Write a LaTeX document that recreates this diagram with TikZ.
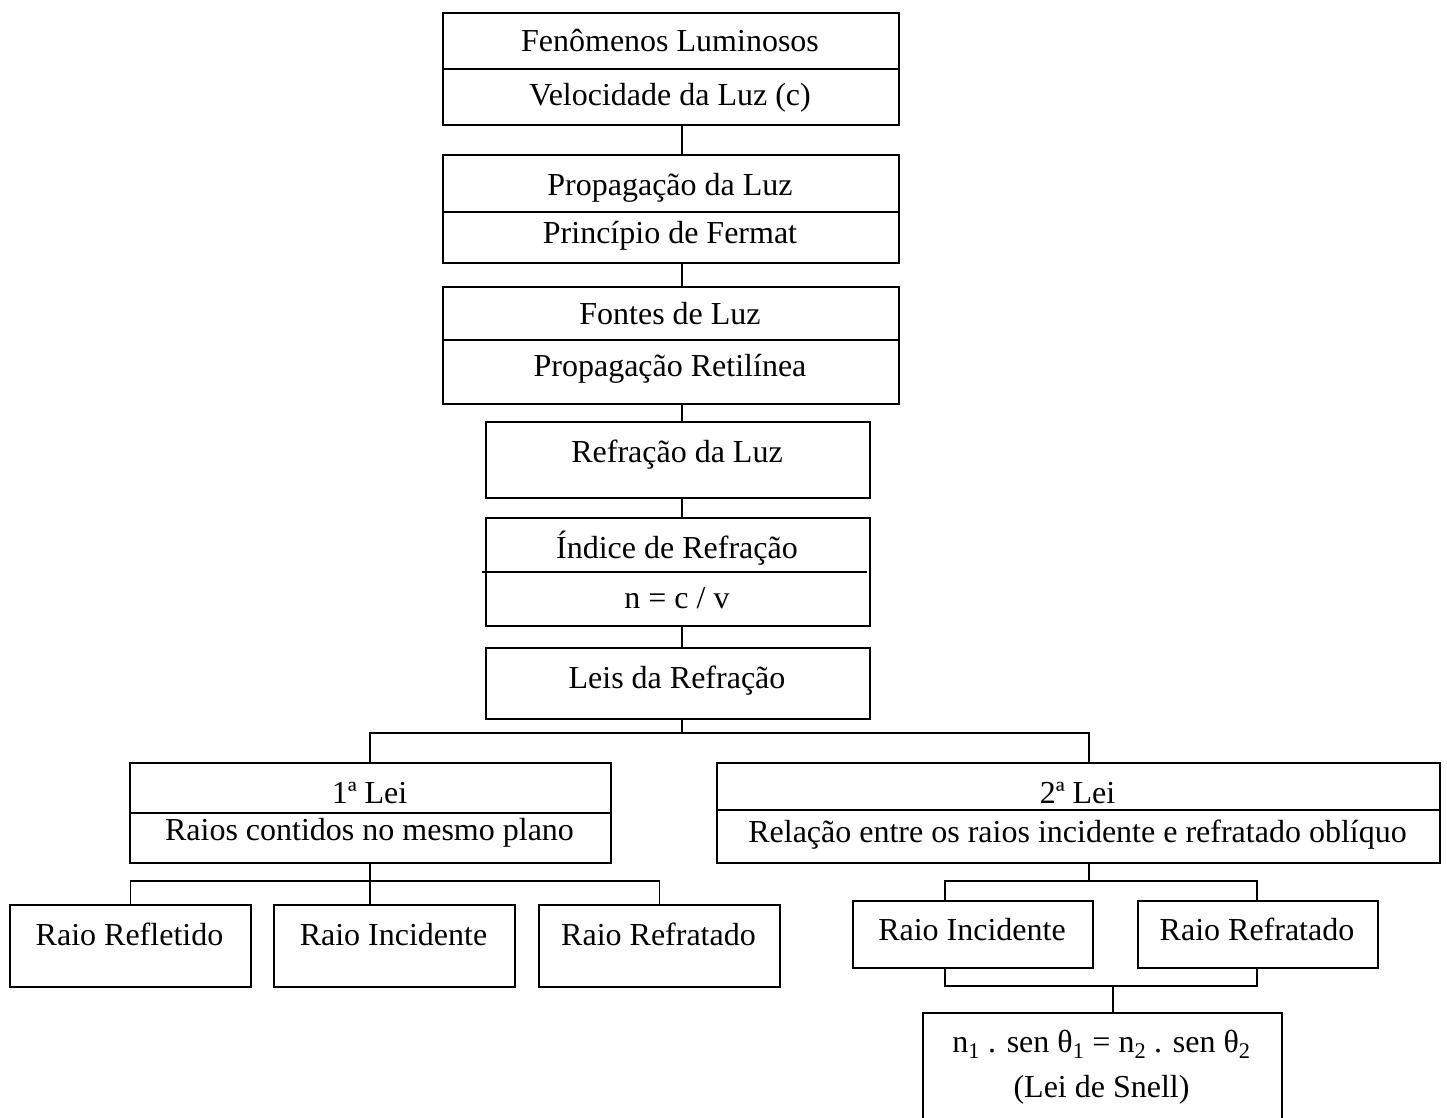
\documentclass[tikz,border=0pt]{standalone}
\usepackage{fontspec}
\setmainfont{Liberation Serif}
\begin{document}
\begin{tikzpicture}[x=1pt,y=-1pt,
  box/.style={draw, line width=1.8pt, inner sep=0pt, anchor=north west},
  wire/.style={line width=1.8pt},
  txt/.style={anchor=base, inner sep=0pt, font=\fontsize{32}{38}\selectfont}]
\useasboundingbox (0,0) rectangle (1447,1118);
\clip (0,0) rectangle (1447,1118);

% main column of boxes
\node[box, minimum width=456pt, minimum height=112pt] (a) at (442,12) {};
\node[box, minimum width=456pt, minimum height=108pt] (b) at (442,154) {};
\node[box, minimum width=456pt, minimum height=117pt] (c) at (442,286) {};
\node[box, minimum width=384pt, minimum height=76pt]  (d) at (485,421) {};
\node[box, minimum width=384pt, minimum height=108pt] (e) at (485,517) {};
\node[box, minimum width=384pt, minimum height=71pt]  (f) at (485,647) {};

% the two laws
\node[box, minimum width=481pt, minimum height=100pt] (g) at (129,762) {};
\node[box, minimum width=723pt, minimum height=100pt] (h) at (716,762) {};

% rays of the first law
\node[box, minimum width=241pt, minimum height=82pt] (l1) at (9,904) {};
\node[box, minimum width=241pt, minimum height=82pt] (l2) at (273,904) {};
\node[box, minimum width=241pt, minimum height=82pt] (l3) at (538,904) {};

% rays of the second law and Snell's law
\node[box, minimum width=240pt, minimum height=67pt] (r1) at (852,900) {};
\node[box, minimum width=240pt, minimum height=67pt] (r2) at (1137,900) {};
\node[box, minimum width=359pt, minimum height=140pt] (s) at (922,1012) {};

% inner dividers
\draw[wire] (a.west |- 0,69) -- (a.east |- 0,69);
\draw[wire] (b.west |- 0,212) -- (b.east |- 0,212);
\draw[wire] (c.west |- 0,340) -- (c.east |- 0,340);
\draw[wire] (482,572) -- (867,572);
\draw[wire] (g.west |- 0,813) -- (g.east |- 0,813);
\draw[wire] (h.west |- 0,810) -- (h.east |- 0,810);

% texts
\node[txt] (ta1) at (670,52)  {Fenômenos Luminosos};
\node[txt] (ta2) at (670,106) {Velocidade da Luz (c)};
\node[txt] (tb1) at (670,195) {Propagação da Luz};
\node[txt] (tb2) at (670,243) {Princípio de Fermat};
\node[txt] (tc1) at (670,324) {Fontes de Luz};
\node[txt] (tc2) at (670,376) {Propagação Retilínea};
\node[txt] (td)  at (677,462) {Refração da Luz};
\node[txt] (te1) at (677,558) {Índice de Refração};
\node[txt] (te2) at (677,608) {n = c / v};
\node[txt] (tf)  at (677,688) {Leis da Refração};
\node[txt] (tg1) at (369.5,803) {1ª Lei};
\node[txt] (tg2) at (369.5,840) {Raios contidos no mesmo plano};
\node[txt] (th1) at (1077.5,803) {2ª Lei};
\node[txt] (th2) at (1077.5,842) {Relação entre os raios incidente e refratado oblíquo};
\node[txt] (tl1) at (129.5,945) {Raio Refletido};
\node[txt] (tl2) at (393.5,945) {Raio Incidente};
\node[txt] (tl3) at (658.5,945) {Raio Refratado};
\node[txt] (tr1) at (972,940)  {Raio Incidente};
\node[txt] (tr2) at (1257,940) {Raio Refratado};
\node[txt] (ts1) at (1101.5,1052) {n\textsubscript{1} . sen θ\textsubscript{1} = n\textsubscript{2} . sen θ\textsubscript{2}};
\node[txt] (ts2) at (1101.5,1097) {(Lei de Snell)};

% connectors
\coordinate (spine) at (682,0);
\coordinate (gx) at (370,0);
\coordinate (hx) at (1089,0);
\coordinate (rx1) at (945,0);
\coordinate (rx2) at (1257,0);
\coordinate (j1) at (682,733);
\coordinate (j2) at (370,881);
\coordinate (j3) at (1089,881);
\coordinate (j4) at (1113,986);

\draw[wire] (spine |- a.south) -- (spine |- b.north);
\draw[wire] (spine |- b.south) -- (spine |- c.north);
\draw[wire] (spine |- c.south) -- (spine |- d.north);
\draw[wire] (spine |- d.south) -- (spine |- e.north);
\draw[wire] (spine |- e.south) -- (spine |- f.north);
\draw[wire] (j1 |- f.south) -- (j1);
\draw[wire] (gx |- g.north) -- (gx |- j1) -- (hx |- j1) -- (hx |- h.north);

\draw[wire] (gx |- g.south) -- (gx |- l2.north);
\draw[wire] (l1.north) -- (l1.north |- j2) -- (l3.north |- j2) -- (l3.north);

\draw[wire] (hx |- h.south) -- (j3);
\draw[wire] (rx1 |- r1.north) -- (rx1 |- j3) -- (rx2 |- j3) -- (rx2 |- r2.north);
\draw[wire] (rx1 |- r1.south) -- (rx1 |- j4) -- (rx2 |- j4) -- (rx2 |- r2.south);
\draw[wire] (j4) -- (j4 |- s.north);
\end{tikzpicture}
\end{document}
